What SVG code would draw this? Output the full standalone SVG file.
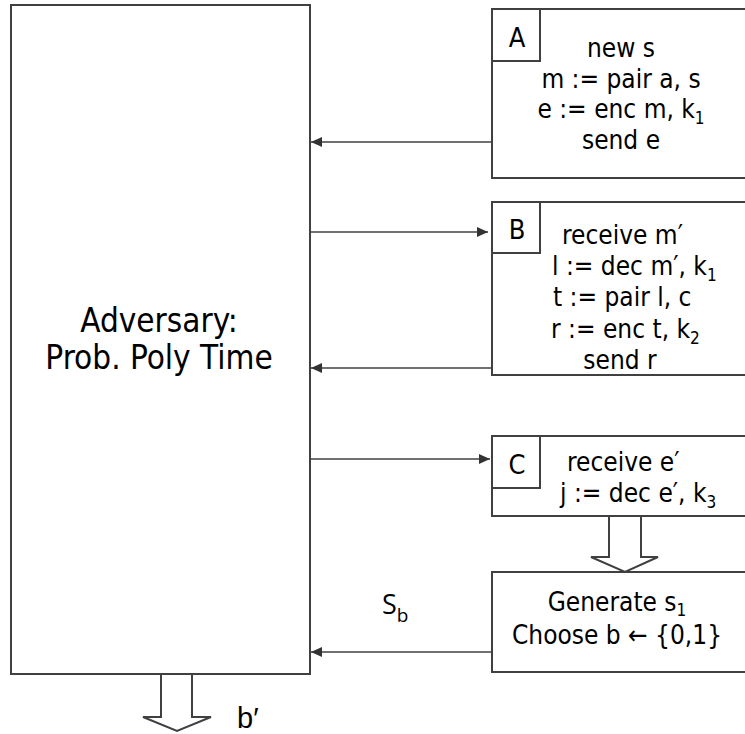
<svg xmlns="http://www.w3.org/2000/svg" width="745" height="734" viewBox="0 0 745 734">
<style>
.box{fill:#fff;stroke:#404040;stroke-width:2}
.lbl{fill:#fff;stroke:#404040;stroke-width:2}
.t{font-family:"DejaVu Sans Condensed","DejaVu Sans",sans-serif;font-stretch:condensed;font-size:26px;fill:#000}
.big{font-family:"DejaVu Sans Condensed","DejaVu Sans",sans-serif;font-stretch:condensed;font-size:33px;fill:#000}
.sub{font-size:17px}
.arr{stroke:#404040;stroke-width:1.6;fill:none}
.hollow{fill:#fff;stroke:#404040;stroke-width:2}
</style>
<defs>
<marker id="ah" markerUnits="userSpaceOnUse" markerWidth="12" markerHeight="10" refX="11" refY="5" orient="auto">
<path d="M0,0 L11,5 L0,10 Z" fill="#333"/>
</marker>
</defs>
<rect width="745" height="734" fill="#fff"/>
<g id="adversary">
<rect class="box" x="11" y="5" width="299" height="669"/>
<text class="big" x="159" y="332" text-anchor="middle">Adversary:</text>
<text class="big" x="159" y="369" text-anchor="middle">Prob. Poly Time</text>
</g>
<g id="nodeA">
<rect class="box" x="492" y="9" width="270" height="169"/>
<rect class="lbl" x="492" y="9" width="48" height="52"/>
<text class="t" x="517" y="47" text-anchor="middle" style="font-size:27px">A</text>
<text class="t" x="621" y="57" text-anchor="middle">new s</text>
<text class="t" x="621" y="88" text-anchor="middle">m := pair a, s</text>
<text class="t" x="621" y="118" text-anchor="middle">e := enc m, k<tspan class="sub" dy="6">1</tspan></text>
<text class="t" x="621" y="149" text-anchor="middle">send e</text>
</g>
<g id="nodeB">
<rect class="box" x="492" y="202" width="270" height="173"/>
<rect class="lbl" x="492" y="202" width="48" height="51"/>
<text class="t" x="517" y="239" text-anchor="middle" style="font-size:27px">B</text>
<text class="t" x="562" y="244">receive m′</text>
<text class="t" x="552" y="275">l := dec m′, k<tspan class="sub" dy="6">1</tspan></text>
<text class="t" x="553" y="306">t := pair l, c</text>
<text class="t" x="551" y="338">r := enc t, k<tspan class="sub" dy="6">2</tspan></text>
<text class="t" x="620" y="369" text-anchor="middle">send r</text>
</g>
<g id="nodeC">
<rect class="box" x="492" y="436" width="270" height="80"/>
<rect class="lbl" x="492" y="436" width="48" height="52"/>
<text class="t" x="517" y="474" text-anchor="middle" style="font-size:27px">C</text>
<text class="t" x="567" y="471">receive e′</text>
<text class="t" x="560" y="502">j := dec e′, k<tspan class="sub" dy="6">3</tspan></text>
</g>
<g id="generate">
<rect class="box" x="492" y="572" width="270" height="100"/>
<text class="t" x="617" y="611" text-anchor="middle">Generate s<tspan class="sub" dy="5">1</tspan></text>
<text class="t" x="617" y="644" text-anchor="middle">Choose b ← {0,1}</text>
</g>
<g id="connectors">
<line class="arr" x1="492" y1="142" x2="311" y2="142" marker-end="url(#ah)"/>
<line class="arr" x1="310" y1="232" x2="488" y2="232" marker-end="url(#ah)"/>
<line class="arr" x1="492" y1="368" x2="311" y2="368" marker-end="url(#ah)"/>
<line class="arr" x1="310" y1="459" x2="490" y2="459" marker-end="url(#ah)"/>
<line class="arr" x1="492" y1="652" x2="311" y2="652" marker-end="url(#ah)"/>
<polygon class="hollow" points="609,516 641,516 641,557 658,557 625,572 591,557 609,557"/>
<polygon class="hollow" points="161,674 192,674 192,717 211,717 177,731 143,717 161,717"/>
<text x="382" y="614" style="font-family:'Open Sans','Noto Sans',sans-serif;font-size:27px">S<tspan style="font-size:19px" dy="8">b</tspan></text>
<text x="237" y="728" style="font-family:'Liberation Sans',Arial,sans-serif;font-size:29px">b′</text>
</g>
</svg>
